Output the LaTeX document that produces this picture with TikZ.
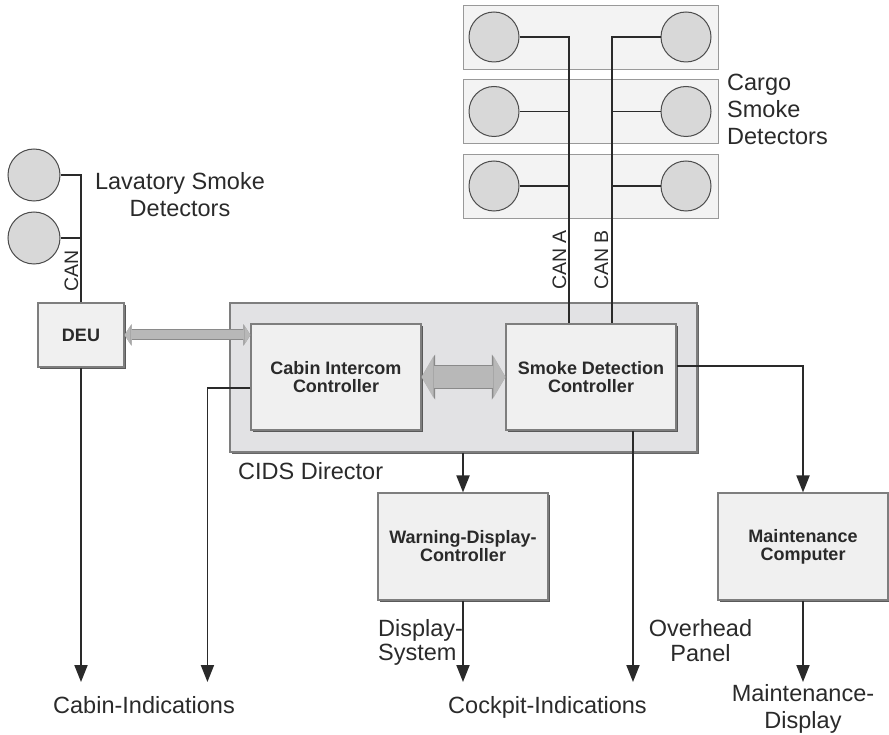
\documentclass[tikz,border=0pt]{standalone}
\usepackage{fontspec}
\setmainfont{Liberation Sans}
\usetikzlibrary{arrows.meta,shadows}
\definecolor{mydark}{HTML}{2A2A2A}
\definecolor{myline}{HTML}{7E7E7E}
\definecolor{myfill}{HTML}{F0F0F0}
\definecolor{mycids}{HTML}{E2E2E4}
\definecolor{mypanel}{HTML}{F3F3F3}
\definecolor{mydisc}{HTML}{D8D8D8}
\definecolor{mypipe}{HTML}{B8B8B8}
\definecolor{mypipeedge}{HTML}{8A8A8A}

\begin{document}
\begin{tikzpicture}[x=1pt,y=-1pt,
  unit/.style={draw=myline,line width=1.1pt,fill=myfill,minimum width=170pt,minimum height=106pt,
    align=center,font=\fontsize{18}{18}\selectfont\bfseries,text=mydark,
    drop shadow={shadow xshift=1.6pt,shadow yshift=-1.6pt,fill=black!65,opacity=1}},
  director/.style={draw=myline,line width=1.1pt,fill=mycids,minimum width=467pt,minimum height=149pt,
    drop shadow={shadow xshift=1.6pt,shadow yshift=-1.6pt,fill=black!60,opacity=1}},
  panel/.style={draw=black!40,line width=.8pt,fill=mypanel,minimum width=255pt,minimum height=64pt},
  detector/.style={circle,draw=black!70,line width=1pt,fill=mydisc,inner sep=0pt,minimum size=50pt},
  bus/.style={draw=mydark,line width=1.9pt},
  flow/.style={bus,-{Triangle[width=13pt,length=17pt]}},
  pipe/.style={line width=22pt,draw=mypipe,
    {Triangle[width=42pt,length=12pt,line width=0pt]}-{Triangle[width=42pt,length=12pt,line width=0pt]},
    preaction={draw=mypipeedge,line width=24pt,
    {Triangle[width=45pt,length=13.5pt,line width=0pt]}-{Triangle[width=45pt,length=13.5pt,line width=0pt]}}},
  thinpipe/.style={line width=9pt,draw=mypipe,
    {Triangle[width=19pt,length=6pt,line width=0pt]}-{Triangle[width=19pt,length=6pt,line width=0pt]},
    preaction={draw=mypipeedge,line width=11pt,
    {Triangle[width=21.5pt,length=7pt,line width=0pt]}-{Triangle[width=21.5pt,length=7pt,line width=0pt]}}},
  note/.style={font=\fontsize{23.5}{27}\selectfont,text=mydark,inner sep=0pt,align=center},
  canlabel/.style={font=\fontsize{19.5}{20}\selectfont,text=mydark,inner sep=0pt,rotate=90,anchor=base}]
  \useasboundingbox (0,0) rectangle (889,735);
  \coordinate (endrow) at (0,682);

  % cargo detectors, three pairs
  \foreach \i/\yy in {1/37,2/111.5,3/186} {
    \node[panel] (p\i) at (590.5,\yy) {};
    \node[detector] (a\i) at (494,\yy) {};
    \node[detector] (b\i) at (686,\yy) {};}
  \node[note,anchor=north west,align=left] (cargo) at (727,74) {Cargo\\Smoke\\Detectors};

  % lavatory detectors
  \node[detector,minimum size=52pt] (lav1) at (34,175) {};
  \node[detector,minimum size=52pt] (lav2) at (34,238) {};
  \node[note,anchor=north] (lavtxt) at (180,172) {Lavatory Smoke\\Detectors};

  % CIDS director and units
  \node[director] (cids) at (463.5,377.5) {};
  \node[note,anchor=base west] (cidstxt) at (238,479) {CIDS Director};
  \node[unit] (cic) at (336,377) {Cabin Intercom\\Controller};
  \node[unit] (sdc) at (591,377) {Smoke Detection\\Controller};
  \node[unit,minimum width=86pt,minimum height=64pt] (deu) at (81,335) {DEU};
  \node[unit,minimum height=107pt] (wdc) at (463,546.5) {Warning-Display-\\Controller};
  \node[unit,minimum height=107pt] (mc) at (803,546.5) {Maintenance\\Computer};

  % CAN buses
  \coordinate (canA) at ([xshift=-22pt]sdc.north);
  \coordinate (canB) at ([xshift=21pt]sdc.north);
  \draw[bus] (a1.east) -| (canA);
  \draw[bus] (b1.west) -| (canB);
  \foreach \i in {2,3} {
    \draw[bus] (a\i.east) -- (a\i.east -| canA);
    \draw[bus] (b\i.west) -- (b\i.west -| canB);}
  \draw[bus] (lav1.east) -| (deu.north);
  \draw[bus] (lav2.east) -- (lav2.east -| deu.north);
  \node[canlabel] (canlav) at (78,271) {CAN};
  \node[canlabel] (cana) at (566,260) {CAN A};
  \node[canlabel] (canb) at (608,260) {CAN B};

  % data links
  \draw[thinpipe] (deu.east) -- (deu.east -| cic.west);
  \draw[pipe] (cic.east) -- (sdc.west);

  % outputs
  \draw[flow] (deu.south) -- (deu.south |- endrow);
  \draw[flow] ([yshift=-11pt]cic.west) -| ([xshift=-43pt]cic.west |- endrow);
  \draw[flow] (cids.south -| wdc.north) -- (wdc.north);
  \draw[flow] ([xshift=42pt]sdc.south) -- ([xshift=42pt]sdc.south |- endrow);
  \draw[flow] ([yshift=11pt]sdc.east) -| (mc.north);
  \draw[flow] (wdc.south) -- (wdc.south |- endrow);
  \draw[flow] (mc.south) -- (mc.south |- endrow);

  \node[note,anchor=base] (cabin) at (144,713) {Cabin-Indications};
  \node[note,anchor=base] (cockpit) at (547.5,713) {Cockpit-Indications};
  \node[note,anchor=north west,align=left,font=\fontsize{23.5}{24.5}\selectfont] (dsys) at (378,619) {Display-\\System};
  \node[note,anchor=north,font=\fontsize{23.5}{25}\selectfont] (ovh) at (700.5,619) {Overhead\\Panel};
  \node[note,anchor=north] (mdisp) at (803,684) {Maintenance-\\Display};
\end{tikzpicture}
\end{document}
